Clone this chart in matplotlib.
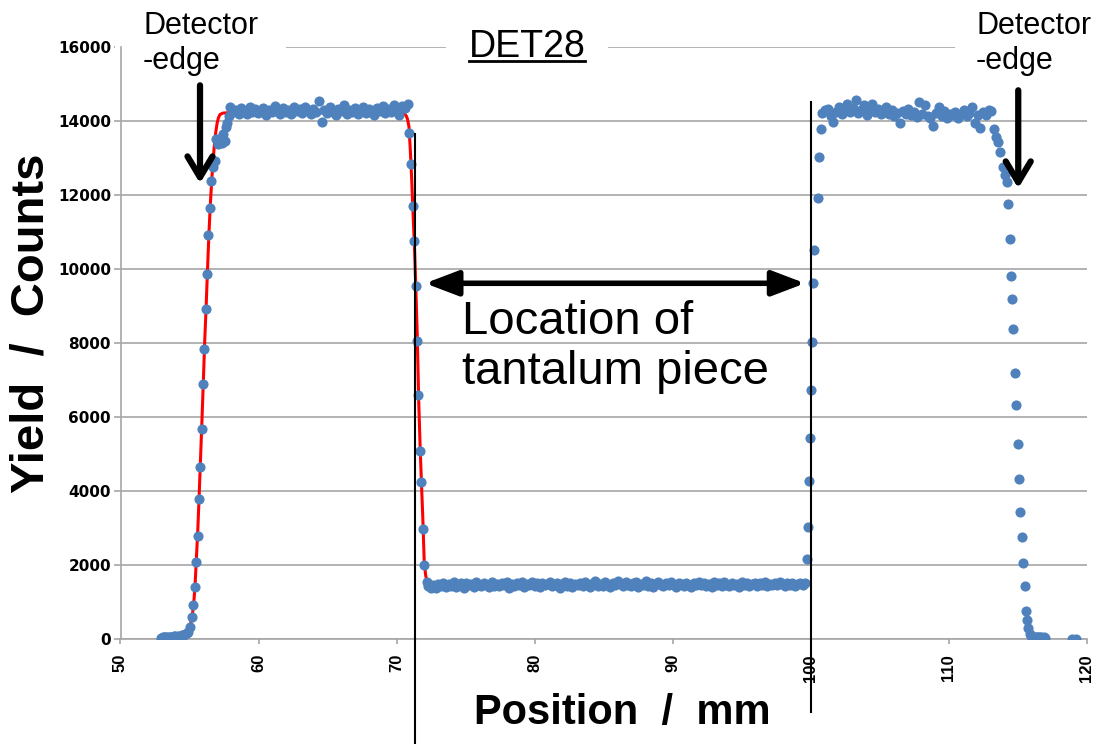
import numpy as np
import matplotlib.pyplot as plt
from matplotlib.lines import Line2D

plt.rcParams['font.family'] = ['Liberation Sans', 'DejaVu Sans']

# ---- scan data, DET28 (position in mm, yield in counts) ----
left_base = [40, 55, 60, 50, 65, 70, 60, 75, 70, 80, 85, 75, 90, 95, 90, 105, 110, 130, 160]
left_edge_x = [54.9, 55.04, 55.18, 55.28, 55.38, 55.47, 55.59, 55.67, 55.76, 55.88, 56.0, 56.07,
               56.2, 56.29, 56.36, 56.46, 56.56, 56.72, 56.85,
               56.95, 57.05, 57.15, 57.25, 57.35, 57.45, 57.55, 57.65, 57.75, 57.85]
left_edge_y = [197, 332, 613, 919, 1414, 2089, 2792, 3802, 4657, 5676, 6910, 7856,
               8937, 9883, 10919, 11667, 12378, 12765, 12919,
               13530, 13400, 13450, 13560, 13420, 13650, 13480, 13850, 13950, 14150]

plateau1 = [14380, 14250, 14310, 14200, 14350, 14280, 14190, 14400, 14260, 14330,
            14220, 14290, 14370, 14180, 14310, 14240, 14420, 14280, 14200, 14350,
            14260, 14310, 14190, 14380, 14270, 14330, 14230, 14400, 14290, 14210,
            14340, 14260, 14550, 13980, 14300, 14220, 14380, 14250, 14170, 14320,
            14270, 14430, 14200, 14310, 14260, 14350, 14190, 14280, 14400, 14230,
            14320, 14260, 14180, 14370, 14290, 14410, 14220, 14330, 14250, 14450,
            14300, 14180, 14420, 14350, 14470]

drop1_x = [70.93, 71.05, 71.17, 71.29, 71.39, 71.51, 71.58, 71.72, 71.80, 71.94, 72.01, 72.19]
drop1_y = [13690, 12840, 11710, 10770, 9550, 8060, 6610, 5080, 4240, 2970, 2010, 1550]

shadow = [1440, 1400, 1470, 1390, 1500, 1430, 1520, 1410, 1490, 1450,
          1540, 1420, 1480, 1510, 1400, 1530, 1460, 1500, 1420, 1550,
          1470, 1430, 1520, 1480, 1410, 1560, 1450, 1500, 1430, 1520,
          1470, 1540, 1380, 1490, 1430, 1510, 1460, 1550, 1420, 1500,
          1480, 1560, 1440, 1510, 1410, 1530, 1470, 1500, 1550, 1430,
          1460, 1520, 1400, 1490, 1540, 1450, 1510, 1420, 1500, 1470,
          1530, 1440, 1560, 1480, 1420, 1510, 1570, 1450, 1500, 1430,
          1540, 1470, 1410, 1520, 1460, 1580, 1490, 1430, 1540, 1470,
          1440, 1520, 1550, 1420, 1500, 1460, 1570, 1450, 1520, 1410,
          1490, 1540, 1460, 1430, 1510, 1470, 1550, 1480, 1420, 1520,
          1490, 1440, 1530, 1470, 1410, 1510, 1460, 1550, 1480, 1530,
          1450, 1500, 1420, 1540, 1470, 1510, 1440, 1560, 1480, 1430,
          1520, 1460, 1500, 1410, 1540, 1470, 1520, 1450, 1490, 1530,
          1440, 1510, 1470, 1550, 1430, 1500, 1480, 1520, 1460, 1540,
          1490, 1450, 1530, 1470, 1510, 1440, 1500, 1520, 1480, 1510]

rise2_x = [99.7, 99.8, 99.9, 99.97, 100.04, 100.12, 100.19, 100.26, 100.5, 100.62, 100.72]
rise2_y = [2180, 3030, 4280, 5430, 6730, 8030, 9620, 10510, 11930, 13040, 13780]

plateau2 = [14230, 14300, 14320, 14150, 13990, 14250, 14380, 14200, 14330, 14480,
            14260, 14350, 14570, 14220, 14300, 14450, 14180, 14280, 14480, 14240,
            14320, 14190, 14260, 14380, 14210, 14300, 14150, 14230, 13950, 14280,
            14200, 14330, 14160, 14250, 14120, 14530, 14200, 14440, 14150, 14090,
            13860, 14230, 14390, 14140, 14280, 14100, 14200, 14170, 14250, 14080,
            14190, 14300, 14130, 14220, 14400, 13950, 14170, 13810, 14250, 14180,
            14300, 14280]

drop2_x = [113.25, 113.45, 113.55, 113.75, 113.95, 114.05, 114.2, 114.33, 114.41, 114.5,
           114.58, 114.67, 114.8, 114.9, 115.0, 115.1, 115.2, 115.3, 115.42, 115.52,
           115.62, 115.7, 115.78, 115.9, 116.0, 116.1, 116.2, 116.3, 116.4, 116.5,
           116.6, 116.7, 116.8, 116.9, 117.0, 118.9, 119.2]
drop2_y = [13800, 13580, 13440, 13170, 12765, 12540, 12360, 11757, 10830, 9811,
           9190, 8380, 7190, 6324, 5270, 4343, 3451, 2757, 2062, 1451,
           757, 514, 316, 154, 90, 70, 60, 55, 60, 50,
           55, 50, 45, 50, 45, 20, 20]

# fitted edges (red)
fit_left_x = [54.5, 54.8, 54.9, 55.0, 55.1, 55.2, 55.3, 55.4, 55.5, 55.6, 55.7, 55.8, 55.9, 56.0,
              56.1, 56.2, 56.3, 56.4, 56.5, 56.6, 56.7, 56.8, 56.9, 57.0, 57.1, 57.2, 57.4, 57.7]
fit_left_y = [60, 140, 200, 300, 450, 650, 950, 1450, 2200, 2950, 3900, 4900, 5900, 6950,
              8050, 8950, 9950, 10900, 11700, 12350, 12900, 13350, 13700, 13950, 14100, 14180, 14220, 14230]
fit_right_x = [70.5, 70.7, 70.8, 70.9, 71.0, 71.1, 71.2, 71.3, 71.4, 71.5, 71.6, 71.7, 71.8,
               71.9, 72.0, 72.1, 72.2, 72.4]
fit_right_y = [14220, 14150, 14050, 13850, 13200, 12400, 11450, 10600, 9450, 8200, 6500, 5300, 4250,
               3300, 2150, 1750, 1560, 1500]

tantalum_edges = [71.34, 100.05]
detector_edges = [55.76, 115.04]

xticks = [50, 60, 70, 80, 90, 100, 110, 120]
yticks = [0, 2000, 4000, 6000, 8000, 10000, 12000, 14000, 16000]

# ---- assemble the scan ----
x_all = np.concatenate([np.linspace(52.95, 54.8, len(left_base)), left_edge_x,
                        np.linspace(57.95, 70.8, len(plateau1)), drop1_x,
                        np.linspace(72.3, 99.6, len(shadow)), rise2_x,
                        np.linspace(100.85, 113.1, len(plateau2)), drop2_x])
y_all = np.concatenate([left_base, left_edge_y, plateau1, drop1_y, shadow, rise2_y, plateau2, drop2_y])

fig = plt.figure(figsize=(11.03, 7.44), dpi=100)
ax = fig.add_axes([120.5 / 1103, 104.7 / 744, 966.2 / 1103, 592 / 744])

grey = '#A6A6A6'
ax.set_xlim(50, 120)
ax.set_ylim(0, 16000)
ax.set_xticks(xticks)
ax.set_yticks(yticks)
ax.grid(axis='y', color=grey, lw=1.2)
ax.set_axisbelow(True)
for s in ['top', 'right']:
    ax.spines[s].set_visible(False)
for s in ['left', 'bottom']:
    ax.spines[s].set_color(grey)
    ax.spines[s].set_linewidth(1.2)
ax.tick_params(axis='x', direction='out', length=3.6, width=1.2, color=grey, pad=7)
ax.tick_params(axis='y', direction='out', length=5, width=1.2, color=grey, pad=1.8)
for lab in ax.get_xticklabels():
    lab.set_rotation(90)
    lab.set_fontweight('bold')
    lab.set_fontsize(12)
    lab.set_va('top')
for lab in ax.get_yticklabels():
    lab.set_family('DejaVu Sans')
    lab.set_fontweight('bold')
    lab.set_fontsize(11)

# fit lines and data
ax.plot(fit_left_x, fit_left_y, color='#FF0000', lw=2.2, zorder=2)
ax.plot(fit_right_x, fit_right_y, color='#FF0000', lw=2.2, zorder=2)
ax.plot(x_all, y_all, 'o', color='#4F81BD', ms=7.3, mew=0, zorder=3)

# tantalum piece edges
trans = ax.get_xaxis_transform()
ax.plot([tantalum_edges[0]] * 2, [0.853, -0.177], color='black', lw=1.5, transform=trans, clip_on=False, zorder=4)
ax.plot([tantalum_edges[1]] * 2, [0.908, -0.122], color='black', lw=1.5, transform=trans, clip_on=False, zorder=4)

# arrows
ax.annotate('', xy=(detector_edges[0], 12324), xytext=(detector_edges[0], 14973),
            arrowprops=dict(arrowstyle='->,head_length=0.75,head_width=0.45', lw=4.5, color='black',
                            mutation_scale=20, shrinkA=0, shrinkB=0), annotation_clip=False, zorder=5)
ax.annotate('', xy=(detector_edges[1], 12189), xytext=(detector_edges[1], 14838),
            arrowprops=dict(arrowstyle='->,head_length=0.75,head_width=0.45', lw=4.5, color='black',
                            mutation_scale=20, shrinkA=0, shrinkB=0), annotation_clip=False, zorder=5)
ax.annotate('', xy=(72.07, 9622), xytext=(99.6, 9622),
            arrowprops=dict(arrowstyle='<|-|>,head_length=1.0,head_width=0.38', lw=4, color='black',
                            mutation_scale=20, shrinkA=0, shrinkB=0), zorder=5)

ax.text(74.75, 9180, 'Location of\ntantalum piece', fontsize=34, va='top', ha='left')

# texts above the plot (white boxes break the top gridline)
ax.text(143 / 1103, 1 - 11 / 744, 'Detector\n-edge', fontsize=22, ha='left', va='top',
        transform=fig.transFigure, clip_on=False, zorder=1,
        bbox=dict(facecolor='white', edgecolor='none', pad=20))
ax.text(976 / 1103, 1 - 11 / 744, 'Detector\n-edge', fontsize=22, ha='left', va='top',
        transform=fig.transFigure, clip_on=False, zorder=1,
        bbox=dict(facecolor='white', edgecolor='none', pad=15))
title = ax.text(527 / 1103, 1 - 57 / 744, 'DET28', fontsize=27, ha='center', va='baseline',
                transform=fig.transFigure, clip_on=False, zorder=1,
                bbox=dict(facecolor='white', edgecolor='none', pad=16))

fig.text(32 / 1103, 1 - 323 / 744, 'Yield  /  Counts', rotation=90, fontsize=34,
         fontweight='bold', ha='center', va='center')
fig.text(622 / 1103, 1 - 713 / 744, 'Position  /  mm', fontsize=30,
         fontweight='bold', ha='center', va='center')

# underline of the title
fig.canvas.draw()
bb = title.get_window_extent()
fig.add_artist(Line2D([bb.x0 / 1103, bb.x1 / 1103], [1 - 61 / 744] * 2, color='black', lw=2,
                      transform=fig.transFigure))

fig.savefig('out.png', dpi=100)
